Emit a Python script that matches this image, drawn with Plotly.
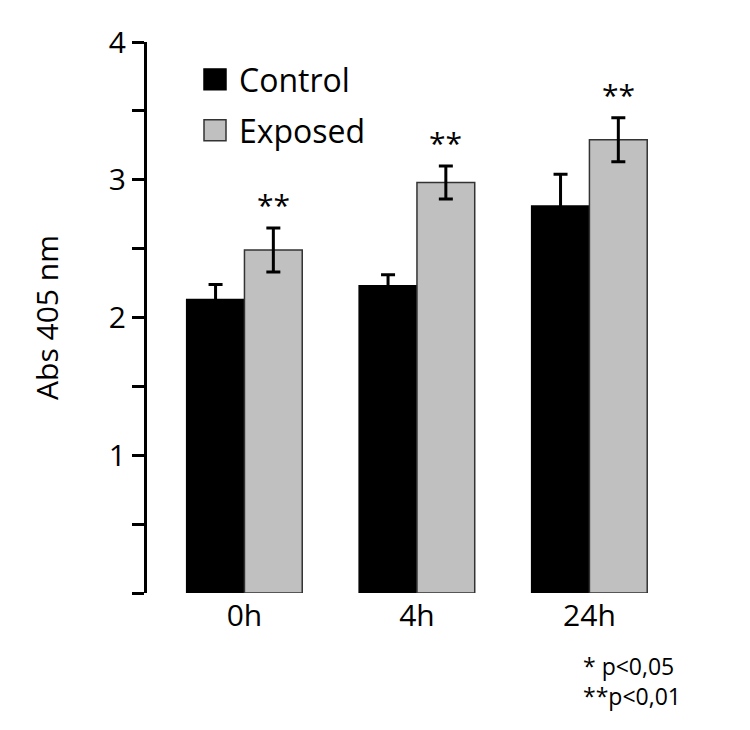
import plotly.graph_objects as go

categories = ["0h", "4h", "24h"]
control_values = [2.13, 2.23, 2.81]
control_err = [0.11, 0.08, 0.23]
exposed_values = [2.49, 2.98, 3.29]
exposed_err = [0.16, 0.12, 0.16]
significance = ["**", "**", "**"]
series_names = ["Control", "Exposed"]
y_tickvals = [0, 0.5, 1, 1.5, 2, 2.5, 3, 3.5, 4]
y_ticktext = ["", "", "1", "", "2", "", "3", "", "4"]
footnotes = ["* p<0,05", "**p<0,01"]

FONT = "Open Sans, Lato, sans-serif"
GREY = "#c0c0c0"

OFF = 8  # page offset of the figure (body margin)
W, H = 750, 730
ML, MT = 147 - OFF, 40 - OFF
MB = H - (593 - OFF)
MR = W - (700 - OFF)
PW = W - ML - MR
PH = H - MT - MB


def px_x(px):
    return (px - OFF - ML) / PW


def px_y(py):
    return (H - MB - (py - OFF)) / PH


fig = go.Figure()
fig.add_trace(go.Bar(
    x=categories, y=control_values, name=series_names[0],
    marker=dict(color="black", line=dict(color="black", width=1.5)),
    error_y=dict(type="data", array=control_err, color="black", thickness=3, width=7),
    showlegend=False,
))
fig.add_trace(go.Bar(
    x=categories, y=exposed_values, name=series_names[1],
    marker=dict(color=GREY, line=dict(color="#333333", width=1.5)),
    error_y=dict(type="data", array=exposed_err, color="black", thickness=3, width=7),
    showlegend=False,
))

annotations = []
bar_px = PW / (2.641 + 0.565) * (1 - 0.33) / 2
for c, v, e, s in zip(categories, exposed_values, exposed_err, significance):
    annotations.append(dict(
        x=c, y=v + e, xref="x", yref="y", text=s, showarrow=False,
        xshift=bar_px / 2, yshift=1, yanchor="bottom",
        font=dict(family=FONT, size=30, color="black"),
    ))

# legend
legend_items = [(series_names[0], "black", "black", 67, 88),
                (series_names[1], GREY, "#333333", 118, 139)]
shapes = []
for name, fill, line, top, bot in legend_items:
    shapes.append(dict(type="rect", xref="paper", yref="paper",
                       x0=px_x(204), x1=px_x(226), y0=px_y(bot), y1=px_y(top),
                       fillcolor=fill, line=dict(color=line, width=1.5)))
    annotations.append(dict(x=px_x(237), y=px_y((top + bot) / 2), xref="paper", yref="paper",
                            text=name, showarrow=False, xanchor="left", yanchor="middle",
                            font=dict(family=FONT, size=32, color="black")))

# footnotes (one two-line text block)
annotations.append(dict(
    x=px_x(581), y=px_y(681), xref="paper", yref="paper",
    text="<br>".join(footnotes), align="left",
    showarrow=False, xanchor="left", yanchor="middle",
    font=dict(family=FONT, size=23, color="black"),
))

fig.update_layout(
    width=W, height=H,
    margin=dict(l=ML, r=MR, t=MT, b=MB, pad=0),
    paper_bgcolor="white", plot_bgcolor="white",
    barmode="group", bargap=0.33, bargroupgap=0,
    font=dict(family=FONT, size=30, color="black"),
    xaxis=dict(range=[-0.565, 2.641], showline=False, showgrid=False, zeroline=False,
               ticks="", tickfont=dict(family=FONT, size=30, color="black"),
               ticklabelstandoff=2),
    yaxis=dict(range=[0, 4], showline=True, linecolor="black", linewidth=3,
               showgrid=False, zeroline=False,
               tickmode="array", tickvals=y_tickvals, ticktext=y_ticktext,
               ticks="outside", ticklen=12, tickwidth=3, tickcolor="black",
               tickfont=dict(family=FONT, size=30, color="black"),
               title=dict(text="Abs 405 nm", font=dict(family=FONT, size=30, color="black"),
                          standoff=42)),
    annotations=annotations,
    shapes=shapes,
)

fig.write_html("out.html")
